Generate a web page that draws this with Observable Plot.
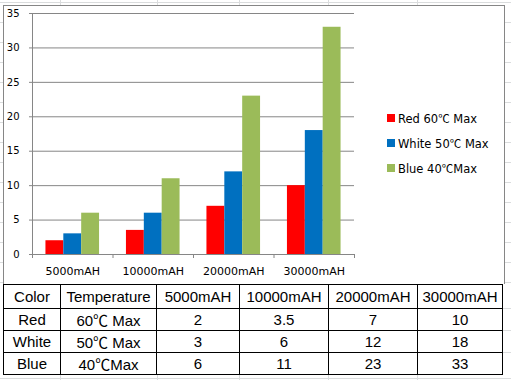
<!DOCTYPE html>
<html>
<head>
<meta charset="utf-8">
<script src="https://cdn.jsdelivr.net/npm/d3@7"></script>
<script src="https://cdn.jsdelivr.net/npm/@observablehq/plot@0.6"></script>
<style>
  html, body { margin: 0; padding: 0; background: #fff; }
  #wrap { position: relative; width: 511px; height: 380px; overflow: hidden; background: #fff; }
  .xl { position: absolute; background: #dadcdd; }
  #chartbox { position: absolute; left: 3px; top: 5px; width: 502px; height: 279px; box-sizing: border-box; border: 1px solid #868686; border-bottom: none; background: #fff; }
  #plot { position: absolute; left: 0; top: 0; }
  #legend { position: absolute; left: 387px; top: 112px; font-family: "DejaVu Sans", sans-serif; font-size: 11.5px; color: #000; }
  #legend .row { display: flex; align-items: center; height: 25px; margin-top: -7px; }
  #legend .row + .row { margin-top: 0; }
  #legend .sw { width: 8px; height: 8px; margin-right: 3px; }
  .deg { font-family: "Noto Sans CJK SC", sans-serif; }
  #tbl { position: absolute; left: 3px; top: 284px; border-collapse: collapse; table-layout: fixed; width: 500px;
         font-family: "Liberation Sans", Arial, sans-serif; font-size: 15px; color: #000; background: #fff; }
  #tbl td { border: 1px solid #000; text-align: center; padding: 0; white-space: nowrap; overflow: hidden; }
  #tbl tr.h td { height: 23px; }
  #tbl tr.b td { height: 21px; }
</style>
</head>
<body>
<div id="wrap"></div>
<script>
// ---- data ----
const categories = ["5000mAH", "10000mAH", "20000mAH", "30000mAH"];
const seriesNames = ["Red", "White", "Blue"];
const seriesTemps = ["60℃ Max", "50℃ Max", "40℃Max"];
const legendLabels = ["Red 60℃ Max", "White 50℃ Max", "Blue 40℃Max"];
const redValues = [2, 3.5, 7, 10];
const whiteValues = [3, 6, 12, 18];
const blueValues = [6, 11, 23, 33];
const yTicks = [0, 5, 10, 15, 20, 25, 30, 35];
const tableHeader = ["Color", "Temperature", ...categories];
const seriesColors = ["#FF0000", "#0070C0", "#9BBB59"];

const seriesValues = [redValues, whiteValues, blueValues];
const rows = categories.flatMap((c, i) =>
  seriesNames.map((s, j) => ({ cat: c, ci: i, series: s, sj: j, value: seriesValues[j][i] }))
);

const barW = 0.222;
const groupPad = (1 - 3 * barW) / 2;
const wrap = document.getElementById("wrap");

// put the ℃ sign in a CJK font, as in the reference
function fillText(el, str) {
  String(str).split("℃").forEach((part, k) => {
    if (k > 0) {
      const s = document.createElement("span");
      s.className = "deg";
      s.textContent = "℃";
      el.appendChild(s);
    }
    el.appendChild(document.createTextNode(part));
  });
}

// faint spreadsheet grid lines outside the chart
function xl(l, t, w, h) {
  const d = document.createElement("div");
  d.className = "xl";
  Object.assign(d.style, { left: l + "px", top: t + "px", width: w + "px", height: h + "px" });
  wrap.appendChild(d);
}
xl(0, 2, 511, 1);
[60, 157, 239, 328, 417].forEach(x => { xl(x, 0, 1, 6); xl(x, 375, 1, 5); });
for (let y = 22; y < 284; y += 20) { xl(505, y, 6, 1); xl(0, y, 3, 1); }
[308, 330, 352].forEach(y => xl(502, y, 9, 1));
xl(0, 378, 511, 1);

const box = document.createElement("div");
box.id = "chartbox";
wrap.appendChild(box);

const gray = "#868686";
const plot = Plot.plot({
  width: 511,
  height: 284,
  marginLeft: 32,
  marginRight: 157,
  marginTop: 13,
  marginBottom: 30,
  style: { background: "transparent", fontFamily: "DejaVu Sans, sans-serif", color: "#000", overflow: "visible" },
  x: { domain: [0, categories.length], axis: null },
  y: { domain: [0, 35], axis: null },
  color: { domain: seriesNames, range: seriesColors },
  marks: [
    Plot.gridY(yTicks.slice(1), { stroke: gray, strokeOpacity: 1 }),
    Plot.rectY(rows, {
      x1: d => d.ci + groupPad + d.sj * barW,
      x2: d => d.ci + groupPad + (d.sj + 1) * barW,
      y: "value",
      fill: { value: d => d.series, scale: "color" }
    }),
    Plot.ruleX([0], { stroke: gray }),
    Plot.ruleY([0], { stroke: gray }),
    Plot.axisY({ ticks: yTicks, label: null, tickSize: 3, tickPadding: 10, stroke: gray, fill: "#000", fontSize: 10 }),
    Plot.axisX({ ticks: d3.range(categories.length + 1), label: null, tickSize: 4, tickFormat: () => "", stroke: gray }),
    Plot.axisX({
      ticks: categories.map((c, i) => i + 0.5),
      label: null,
      tickSize: 0,
      tickPadding: 13,
      tickFormat: d => categories[Math.floor(d)],
      fill: "#000",
      fontSize: 11
    })
  ]
});
plot.id = "plot";
wrap.appendChild(plot);

// legend
const legend = document.createElement("div");
legend.id = "legend";
legendLabels.forEach((lab, i) => {
  const r = document.createElement("div");
  r.className = "row";
  const sw = document.createElement("div");
  sw.className = "sw";
  sw.style.background = seriesColors[i];
  const t = document.createElement("span");
  fillText(t, lab);
  r.appendChild(sw);
  r.appendChild(t);
  legend.appendChild(r);
});
wrap.appendChild(legend);

// data table
const tbl = document.createElement("table");
tbl.id = "tbl";
const cg = document.createElement("colgroup");
[57, 96, 83, 89, 89, 85].forEach(w => {
  const c = document.createElement("col");
  c.style.width = w + "px";
  cg.appendChild(c);
});
tbl.appendChild(cg);
const hr = document.createElement("tr");
hr.className = "h";
tableHeader.forEach(h => { const td = document.createElement("td"); td.textContent = h; hr.appendChild(td); });
tbl.appendChild(hr);
seriesNames.forEach((s, j) => {
  const tr = document.createElement("tr");
  tr.className = "b";
  [s, seriesTemps[j], ...seriesValues[j]].forEach(v => {
    const td = document.createElement("td");
    fillText(td, v);
    tr.appendChild(td);
  });
  tbl.appendChild(tr);
});
wrap.appendChild(tbl);
</script>
</body>
</html>
